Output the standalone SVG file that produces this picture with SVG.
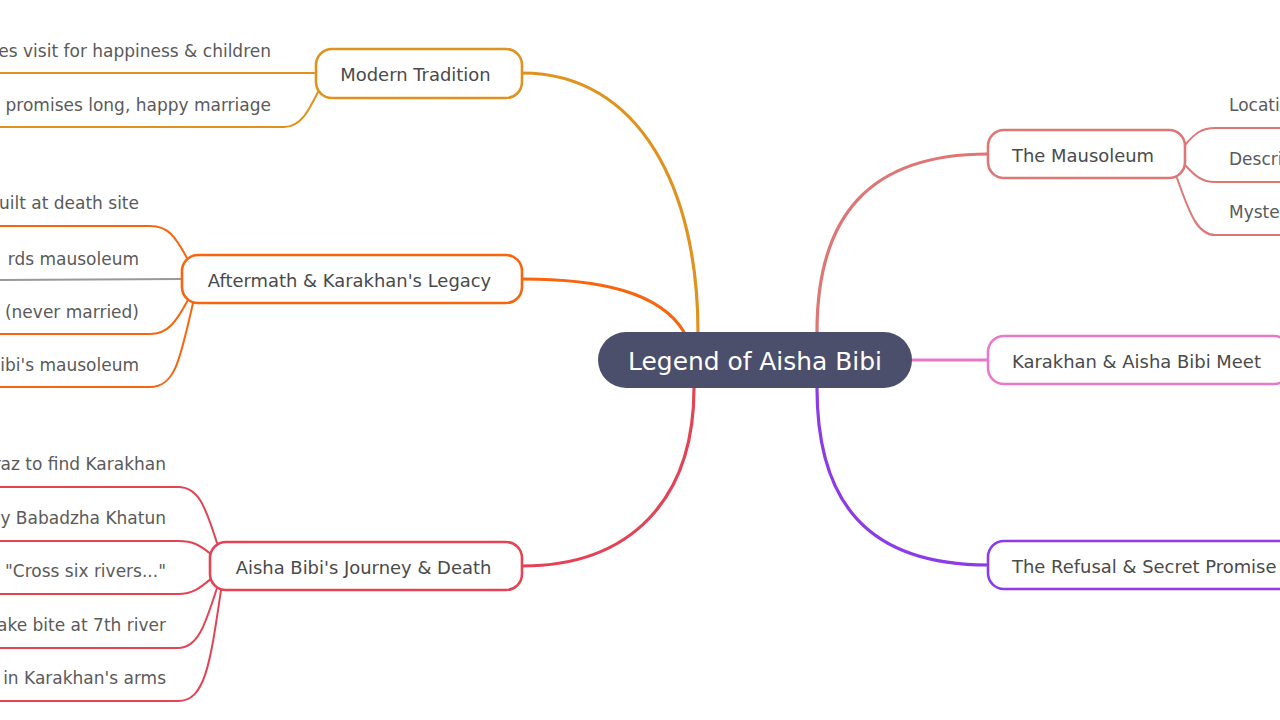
<svg xmlns="http://www.w3.org/2000/svg" width="1280" height="720" viewBox="0 0 1280 720">
<style>
.bg{fill:#ffffff}
.node{fill:#ffffff;stroke-width:2.6}
.lbl{font-family:"DejaVu Sans",Verdana,sans-serif;font-size:17.95px;fill:#4a4a4a;dominant-baseline:central}
.leaf{font-family:"DejaVu Sans",Verdana,sans-serif;font-size:17px;fill:#5a5a5a;dominant-baseline:central}
.root{font-family:"DejaVu Sans",Verdana,sans-serif;font-size:24.9px;fill:#ffffff;dominant-baseline:central}
.br{fill:none;stroke-width:3.2;stroke-linecap:round}
.lf{fill:none;stroke-width:2;stroke-linecap:round}
.c1{stroke:#e0921f}.c2{stroke:#f7650f}.c3{stroke:#e34455}.c4{stroke:#de7676}.c5{stroke:#e879c9}.c6{stroke:#8b3be8}
</style>
<rect class="bg" x="0" y="0" width="1280" height="720"/>
<g id="connectors">
  <path class="br c1" d="M522,73 C640,73 698,190 698,332"/>
  <path class="br c2" d="M522,279 C600,279 660,292 684,332"/>
  <path class="br c3" d="M522,566 C630,566 694,500 694,388"/>
  <path class="br c4" d="M817,332 C817,215 870,154 988,154"/>
  <path class="br c5" d="M912,360 L988,360"/>
  <path class="br c6" d="M817,388 C817,505 870,565 988,565"/>
  <path class="lf c1" d="M316,73 L0,73"/>
  <path class="lf c1" d="M321,86 C310,108 302,127 284,127 L0,127"/>
  <path class="lf c2" d="M187,258 C175,236 168,226 150,226 L0,226"/>
  <path class="lf" stroke="#999999" d="M182,279 L0,280"/>
  <path class="lf c2" d="M188,300 C176,322 168,334 150,334 L0,334"/>
  <path class="lf c2" d="M193,303 C180,360 175,387 150,387 L0,387"/>
  <path class="lf c3" d="M217,543 C205,505 198,487 178,487 L0,487"/>
  <path class="lf c3" d="M212,555 C200,545 193,541 178,541 L0,541"/>
  <path class="lf c3" d="M212,578 C200,588 193,594 178,594 L0,594"/>
  <path class="lf c3" d="M217,588 C205,625 198,648 178,648 L0,648"/>
  <path class="lf c3" d="M221,590 C210,665 205,701 178,701 L0,701"/>
  <path class="lf c4" d="M1185,145 C1195,133 1202,128 1215,128 L1280,128"/>
  <path class="lf c4" d="M1185,165 C1195,176 1202,182 1215,182 L1280,182"/>
  <path class="lf c4" d="M1177,178 C1190,215 1198,235 1215,235 L1280,235"/>
</g>
<g id="root">
  <rect x="598" y="332" width="314" height="56" rx="28" fill="#4b4f6b"/>
  <text class="root" x="755" y="361" text-anchor="middle">Legend of Aisha Bibi</text>
</g>
<g id="modern-tradition">
  <rect class="node c1" x="316" y="49" width="206" height="49" rx="16"/>
  <text class="lbl" x="415.5" y="74" text-anchor="middle">Modern Tradition</text>
  <text class="leaf" x="271" y="51" text-anchor="end">es visit for happiness &amp; children</text>
  <text class="leaf" x="271" y="105" text-anchor="end">l promises long, happy marriage</text>
</g>
<g id="aftermath">
  <rect class="node c2" x="182" y="255" width="340" height="48" rx="16"/>
  <text class="lbl" x="349.5" y="280" text-anchor="middle">Aftermath &amp; Karakhan's Legacy</text>
  <text class="leaf" x="139" y="203" text-anchor="end">uilt at death site</text>
  <text class="leaf" x="139" y="259" text-anchor="end">rds mausoleum</text>
  <text class="leaf" x="139" y="312" text-anchor="end">(never married)</text>
  <text class="leaf" x="139" y="365" text-anchor="end">ibi's mausoleum</text>
</g>
<g id="journey">
  <rect class="node c3" x="210" y="542" width="312" height="48" rx="16"/>
  <text class="lbl" x="363.5" y="567" text-anchor="middle">Aisha Bibi's Journey &amp; Death</text>
  <text class="leaf" x="166" y="464" text-anchor="end">raz to find Karakhan</text>
  <text class="leaf" x="166" y="518" text-anchor="end">y Babadzha Khatun</text>
  <text class="leaf" x="166" y="571" text-anchor="end">"Cross six rivers..."</text>
  <text class="leaf" x="166" y="625" text-anchor="end">ake bite at 7th river</text>
  <text class="leaf" x="166" y="678" text-anchor="end">in Karakhan's arms</text>
</g>
<g id="mausoleum">
  <rect class="node c4" x="988" y="130" width="197" height="48" rx="16"/>
  <text class="lbl" x="1012" y="155">The Mausoleum</text>
  <text class="leaf" x="1229" y="105">Locati</text>
  <text class="leaf" x="1229" y="159">Descri</text>
  <text class="leaf" x="1229" y="212">Myste</text>
</g>
<g id="meet">
  <rect class="node c5" x="988" y="336" width="302" height="48" rx="16"/>
  <text class="lbl" x="1012" y="361">Karakhan &amp; Aisha Bibi Meet</text>
</g>
<g id="refusal">
  <rect class="node c6" x="988" y="541" width="310" height="48" rx="16"/>
  <text class="lbl" x="1012" y="566">The Refusal &amp; Secret Promise</text>
</g>
</svg>
